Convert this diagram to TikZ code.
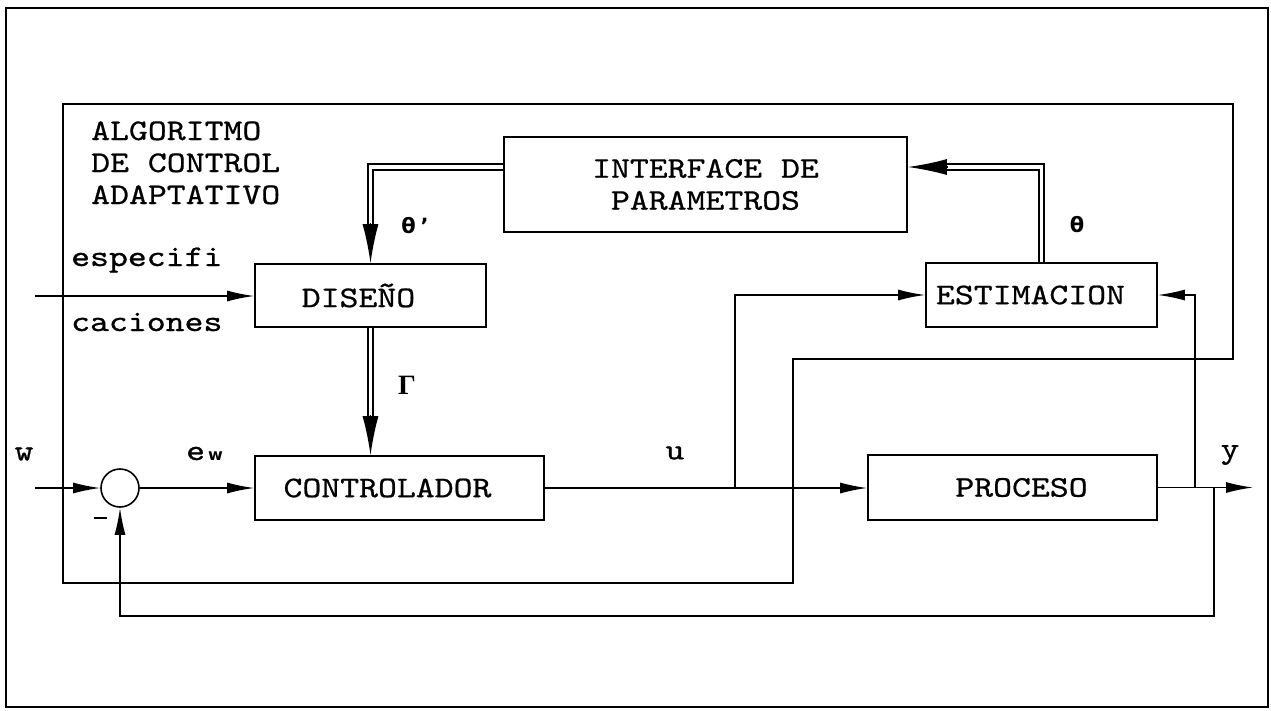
\documentclass[tikz,border=0pt]{standalone}
\usepackage{fontspec}
\setmonofont{lmmono10-regular.otf}[FakeStretch=1.2, FakeBold=0.7]
\newfontfamily\symfont{DejaVu Sans}
\newfontfamily\gamfont{Liberation Serif}
\usetikzlibrary{arrows.meta,calc}
\newcommand\mytxt{\fontsize{30}{32}\selectfont\ttfamily}
\begin{document}
\begin{tikzpicture}[x=1pt,y=-1pt,
  ln/.style={line width=1.6pt},
  box/.style={draw, line width=1.6pt, rectangle, inner sep=0pt, font=\mytxt},
  sm/.style={line width=1.6pt, -{Latex[length=27pt,width=11pt]}},
  dbl/.style={line width=1.8pt, double, double distance=3.5pt},
  bighd/.style={line width=1.5pt, -{Latex[length=39pt,width=16pt]}},
  lbl/.style={inner sep=0pt, font=\mytxt}]
\useasboundingbox (0,0) rectangle (1271,710);
% frames
\draw[ln] (6,8) rectangle (1268,707);
\draw[ln] (63,104) -- (1233,104) -- (1233,359) -- (793,359) -- (793,583) -- (63,583) -- cycle;
% blocks
\node[box, minimum width=403pt, minimum height=95pt, align=center] (iface) at (705.5,184.5) {INTERFACE DE\\PARAMETROS};
\node[box, minimum width=231pt, minimum height=63pt] (dis) at (370.5,295.5) {DISEÑO\hspace*{24pt}};
\node[box, minimum width=289pt, minimum height=64pt] (ctrl) at (399.5,488) {CONTROLADOR\hspace*{24pt}};
\node[box, minimum width=231pt, minimum height=64pt] (est) at (1041.5,295) {ESTIMACION\hspace*{22pt}};
\node[box, minimum width=289pt, minimum height=65pt] (proc) at (1012.5,487.5) {\hspace*{18pt}PROCESO};
\node[draw, line width=1.6pt, circle, minimum size=38pt, inner sep=0pt] (sum) at (120,488) {};
% texts
\node[lbl, anchor=base west] (alg1) at (91,140) {ALGORITMO};
\node[lbl, anchor=base west] (alg2) at (91,172) {DE CONTROL};
\node[lbl, anchor=base west] (alg3) at (91,204) {ADAPTATIVO};
\node[lbl, anchor=base west] (sp1) at (71,266) {especifi};
\node[lbl, anchor=base west] (sp2) at (71,331) {caciones};
\node[lbl] (lw) at (24,454) {w};
\node[lbl, anchor=base west] (lew) at (186,460) {e\kern3pt{\fontsize{16}{16}\selectfont\symfont\bfseries w}};
\node[inner sep=0pt] (lminus) at (100,518) {\rule{13pt}{2.4pt}};
\node[lbl] (lu) at (675,453) {u};
\node[lbl] (ly) at (1230,455) {y};
\node[inner sep=0pt] (lgam) at (407,385) {\fontsize{28}{28}\selectfont\gamfont\bfseries Γ};
\node[inner sep=0pt] (lthp) at (415,226) {\fontsize{21}{21}\selectfont\symfont\bfseries θ\kern5pt’};
\node[inner sep=0pt] (lth) at (1077,225) {\fontsize{21}{21}\selectfont\symfont\bfseries θ};
% coordinates
\coordinate (inS) at (35,296);
\coordinate (inW) at (35,488);
\coordinate (bu) at (735,488);
\coordinate (yout) at (1253,488);
\coordinate (by) at (1195,488);
\coordinate (bf) at (1214,488);
\coordinate (fb) at (1214,616);
\coordinate (hl) at (0,167);
\coordinate (dTop) at (dis.north |- hl);
\coordinate (gEnd) at (dis.south |- ctrl.north);
\coordinate (tR) at (iface.east |- hl);
% single connectors
\draw[sm] (inS) -- (inS -| dis.west);
\draw[sm] (inW) -- (sum.west);
\draw[sm] (sum.east) -- (ctrl.west);
\draw[sm] (ctrl.east) -- (ctrl.east -| proc.west);
\draw[sm] (bu) |- (est.west);
\draw[sm] (proc.east) -- (proc.east -| yout);
\draw[sm] (by) |- (est.east);
\draw[sm] (bf) -- (fb) -| (sum.south);
% double connectors
\draw[dbl] (iface.west |- hl) -- (dTop) -- ([yshift=38pt]dis.north);
\draw[bighd] ([yshift=40pt]dis.north) -- (dis.north);
\draw[dbl] (dis.south) -- ([yshift=38pt]gEnd);
\draw[bighd] ([yshift=40pt]gEnd) -- (gEnd);
\draw[dbl] (est.north) |- ([xshift=38pt]tR);
\draw[bighd] ([xshift=40pt]tR) -- (tR);
\end{tikzpicture}
\end{document}
